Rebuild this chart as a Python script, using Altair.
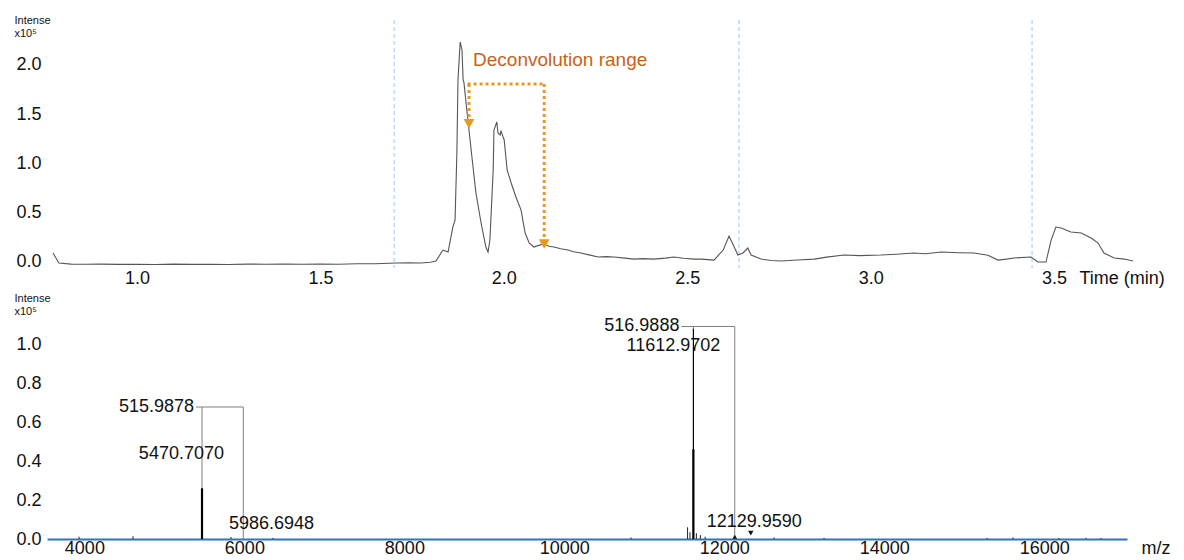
import altair as alt
import pandas as pd

# ---------------- Top panel: chromatogram ----------------
time_min = [0.771, 0.779, 0.787, 0.820, 0.86, 0.90, 0.95, 1.00, 1.05, 1.10, 1.15, 1.20, 1.25, 1.30,
            1.35, 1.40, 1.45, 1.50, 1.55, 1.60, 1.65, 1.706, 1.74, 1.774, 1.80, 1.815, 1.834, 1.848,
            1.861, 1.867, 1.872, 1.875, 1.881, 1.886, 1.889, 1.891, 1.902, 1.913, 1.924, 1.938, 1.951,
            1.957, 1.962, 1.971, 1.973, 1.981, 1.984, 1.990, 1.992, 1.998, 2.001, 2.009, 2.020, 2.033,
            2.047, 2.058, 2.069, 2.082, 2.095, 2.110, 2.123, 2.137, 2.155, 2.175, 2.19, 2.210, 2.235,
            2.257, 2.28, 2.300, 2.33, 2.355, 2.38, 2.409, 2.44, 2.464, 2.49, 2.519, 2.538, 2.573,
            2.598, 2.614, 2.628, 2.638, 2.652, 2.665, 2.674, 2.701, 2.73, 2.756, 2.80, 2.846, 2.88,
            2.927, 2.97, 3.028, 3.07, 3.118, 3.15, 3.192, 3.24, 3.282, 3.32, 3.347, 3.37, 3.391,
            3.437, 3.456, 3.478, 3.492, 3.505, 3.519, 3.546, 3.574, 3.601, 3.620, 3.636, 3.664,
            3.691, 3.715]
intensity_tic = [0.082, 0.031, -0.020, -0.031, -0.033, -0.031, -0.034, -0.032, -0.035, -0.031, -0.034,
                 -0.032, -0.035, -0.031, -0.033, -0.030, -0.033, -0.030, -0.032, -0.028, -0.027,
                 -0.020, -0.018, -0.020, -0.012, 0.000, 0.112, 0.092, 0.347, 0.418, 1.102, 1.847,
                 2.235, 2.153, 1.847, 1.827, 1.439, 1.061, 0.694, 0.388, 0.143, 0.092, 0.214, 0.929,
                 1.337, 1.418, 1.306, 1.286, 1.330, 1.265, 1.235, 0.929, 0.796, 0.653, 0.520, 0.286,
                 0.184, 0.143, 0.160, 0.173, 0.150, 0.143, 0.125, 0.112, 0.095, 0.082, 0.060, 0.041,
                 0.045, 0.041, 0.030, 0.020, 0.025, 0.020, 0.030, 0.041, 0.028, 0.020, 0.020, 0.010,
                 0.112, 0.255, 0.143, 0.061, 0.082, 0.133, 0.061, 0.020, 0.005, 0.000, 0.010, 0.020,
                 0.040, 0.061, 0.055, 0.061, 0.070, 0.082, 0.075, 0.092, 0.085, 0.082, 0.060, 0.010,
                 0.020, 0.031, 0.041, -0.010, -0.010, 0.214, 0.347, 0.337, 0.296, 0.286, 0.235,
                 0.184, 0.082, 0.031, 0.020, 0.000]
assert len(time_min) == len(intensity_tic)

marker_times = [1.701, 2.641, 3.440]
time_ticks = [1.0, 1.5, 2.0, 2.5, 3.0, 3.5]
tic_ticks = [0.0, 0.5, 1.0, 1.5, 2.0]

decon_start = 1.905
decon_end = 2.110
decon_level = 1.806
decon_tips_x = [1.905, 2.110]
decon_tips_y = [1.40, 0.175]
decon_label = "Deconvolution range"
decon_label_x = 1.916
decon_label_y = 2.05

# ---------------- Bottom panel: deconvoluted spectrum ----------------
mz_main = [5470.7070, 11612.9702]
int_main_base = [0.26, 0.46]
int_main_top = [0.26, 1.08]

mz_minor = [3933, 4608, 5833, 6358, 10833, 11540, 11570, 11650, 11700, 11760, 12621, 13246,
            15283, 15608, 16183, 16521, 16708]
int_minor = [0.012, 0.014, 0.010, 0.006, 0.008, 0.060, 0.035, 0.030, 0.020, 0.012, 0.008, 0.006,
             0.006, 0.008, 0.006, 0.006, 0.005]

bracket_left = [5470.7070, 11612.9702]
bracket_right = [5986.6948, 12129.9590]
bracket_start = [5395, 11463]
bracket_level = [0.677, 1.09]
bracket_base = [0.26, 1.08]
bracket_text = ["515.9878", "516.9888"]

mass_text_r = ["5470.7070", "11612.9702"]
mass_x_r = [5745, 11950]
mass_y_r = [0.436, 0.99]
mass_text_l = ["5986.6948", "12129.9590"]
mass_x_l = [5808, 11780]
mass_y_l = [0.077, 0.087]

marker_up = [12129.9590]
marker_down = [12330]

mz_ticks = [4000, 6000, 8000, 10000, 12000, 14000, 16000]
int_ticks = [0.0, 0.2, 0.4, 0.6, 0.8, 1.0]

FONT = "Liberation Sans"
ORANGE = "#e69a1c"
ORANGE_TXT = "#c8621a"

# ---------- top chart ----------
tic_df = pd.DataFrame({"t": time_min, "i": intensity_tic})
xs_top = alt.Scale(domain=[0.7546, 3.737], nice=False, zero=False)
ys_top = alt.Scale(domain=[-0.071, 2.459], nice=False, zero=False)

x_axis_top = alt.Axis(values=time_ticks, format=".1f", labelFontSize=18, labelColor="#111",
                      labelPadding=1, ticks=False, domain=False, grid=False,
                      title="Time (min)", titleFontSize=18, titleFontWeight="normal",
                      titleColor="#111", titleAnchor="start", titleAlign="left",
                      titleBaseline="top", titleX=1032, titleY=1)
y_axis_top = alt.Axis(values=tic_ticks, format=".1f", labelFontSize=18, labelColor="#111",
                      labelPadding=6, ticks=False, domain=False, grid=False,
                      title=["Intense", "x10\u2075"], titleFontSize=11, titleFontWeight="normal",
                      titleColor="#111", titleAngle=0, titleAlign="left", titleBaseline="top",
                      titleX=-33, titleY=-6, titleLineHeight=13)

trace = alt.Chart(tic_df).mark_line(color="#555555", strokeWidth=1.1).encode(
    x=alt.X("t:Q", scale=xs_top, axis=x_axis_top),
    y=alt.Y("i:Q", scale=ys_top, axis=y_axis_top),
)

vlines = alt.Chart(pd.DataFrame({"t": marker_times})).mark_rule(
    color="#9cc7ef", strokeDash=[4, 3], strokeWidth=1
).encode(x=alt.X("t:Q", scale=xs_top))

decon_h = alt.Chart(pd.DataFrame({"a": [decon_start - 0.004], "b": [decon_end], "y": [decon_level]})).mark_rule(
    color=ORANGE, strokeDash=[3, 3], strokeWidth=3
).encode(x=alt.X("a:Q", scale=xs_top), x2="b:Q", y=alt.Y("y:Q", scale=ys_top))

decon_v = alt.Chart(pd.DataFrame({"x": decon_tips_x, "y": [decon_level] * 2,
                                  "y2": [v + 0.06 for v in decon_tips_y]})).mark_rule(
    color=ORANGE, strokeDash=[3, 3], strokeWidth=3
).encode(x=alt.X("x:Q", scale=xs_top), y=alt.Y("y:Q", scale=ys_top), y2="y2:Q")

decon_tips = alt.Chart(pd.DataFrame({"x": decon_tips_x, "y": decon_tips_y})).mark_point(
    shape="triangle-down", filled=True, color=ORANGE, size=120, opacity=1
).encode(x=alt.X("x:Q", scale=xs_top), y=alt.Y("y:Q", scale=ys_top))

decon_txt = alt.Chart(pd.DataFrame({"x": [decon_label_x], "y": [decon_label_y], "s": [decon_label]})).mark_text(
    align="left", baseline="middle", fontSize=19, font=FONT, color=ORANGE_TXT
).encode(x=alt.X("x:Q", scale=xs_top), y=alt.Y("y:Q", scale=ys_top), text="s:N")

top = alt.layer(vlines, trace, decon_h, decon_v, decon_tips, decon_txt).properties(width=1094, height=248)

# ---------- bottom chart ----------
xs_bot = alt.Scale(domain=[3533, 17033], nice=False, zero=False)
ys_bot = alt.Scale(domain=[0, 1.231], nice=False, zero=False)

x_axis_bot = alt.Axis(values=mz_ticks, format="d", labelFontSize=18, labelColor="#111",
                      labelPadding=0, ticks=False, domain=True, domainColor="#2e75b6",
                      domainWidth=2, grid=False, labelFlush=False,
                      title="m/z", titleFontSize=18, titleFontWeight="normal", titleColor="#111",
                      titleAnchor="start", titleAlign="left", titleBaseline="top",
                      titleX=1094, titleY=0)
y_axis_bot = alt.Axis(values=int_ticks, format=".1f", labelFontSize=18, labelColor="#111",
                      labelPadding=6, ticks=False, domain=False, grid=False,
                      title=["Intense", "x10\u2075"], titleFontSize=11, titleFontWeight="normal",
                      titleColor="#111", titleAngle=0, titleAlign="left", titleBaseline="top",
                      titleX=-33, titleY=-7, titleLineHeight=13)

minor = alt.Chart(pd.DataFrame({"mz": mz_minor, "i": int_minor})).mark_rule(
    color="#222", strokeWidth=1
).encode(x=alt.X("mz:Q", scale=xs_bot, axis=x_axis_bot),
         y=alt.Y("i:Q", scale=ys_bot, axis=y_axis_bot), y2=alt.datum(0))

main_top = alt.Chart(pd.DataFrame({"mz": mz_main, "i": int_main_top})).mark_rule(
    color="#000", strokeWidth=1.2
).encode(x=alt.X("mz:Q", scale=xs_bot), y=alt.Y("i:Q", scale=ys_bot), y2=alt.datum(0))

main_base = alt.Chart(pd.DataFrame({"mz": mz_main, "i": int_main_base})).mark_rule(
    color="#000", strokeWidth=2.2
).encode(x=alt.X("mz:Q", scale=xs_bot), y=alt.Y("i:Q", scale=ys_bot), y2=alt.datum(0))

br_df = pd.DataFrame({"l": bracket_left, "r": bracket_right, "s": bracket_start,
                      "lv": bracket_level, "b": bracket_base, "t": bracket_text})
GRAY = "#7f7f7f"
br_left = alt.Chart(br_df).mark_rule(color=GRAY, strokeWidth=1).encode(
    x=alt.X("l:Q", scale=xs_bot), y=alt.Y("b:Q", scale=ys_bot), y2="lv:Q")
br_h = alt.Chart(br_df).mark_rule(color=GRAY, strokeWidth=1).encode(
    x=alt.X("s:Q", scale=xs_bot), x2="r:Q", y=alt.Y("lv:Q", scale=ys_bot))
br_right = alt.Chart(br_df).mark_rule(color=GRAY, strokeWidth=1).encode(
    x=alt.X("r:Q", scale=xs_bot), y=alt.Y("lv:Q", scale=ys_bot), y2=alt.datum(0))
br_txt = alt.Chart(br_df).mark_text(align="right", baseline="middle", fontSize=18, font=FONT,
                                    color="#111", dx=-2).encode(
    x=alt.X("s:Q", scale=xs_bot), y=alt.Y("lv:Q", scale=ys_bot), text="t:N")

txt_r = alt.Chart(pd.DataFrame({"x": mass_x_r, "y": mass_y_r, "s": mass_text_r})).mark_text(
    align="right", baseline="middle", fontSize=18, font=FONT, color="#111"
).encode(x=alt.X("x:Q", scale=xs_bot), y=alt.Y("y:Q", scale=ys_bot), text="s:N")
txt_l = alt.Chart(pd.DataFrame({"x": mass_x_l, "y": mass_y_l, "s": mass_text_l})).mark_text(
    align="left", baseline="middle", fontSize=18, font=FONT, color="#111"
).encode(x=alt.X("x:Q", scale=xs_bot), y=alt.Y("y:Q", scale=ys_bot), text="s:N")

m_up = alt.Chart(pd.DataFrame({"x": marker_up, "y": [0.012]})).mark_point(
    shape="triangle-up", filled=True, color="#111", size=22, opacity=1
).encode(x=alt.X("x:Q", scale=xs_bot), y=alt.Y("y:Q", scale=ys_bot))
m_dn = alt.Chart(pd.DataFrame({"x": marker_down, "y": [0.03]})).mark_point(
    shape="triangle-down", filled=True, color="#111", size=30, opacity=1
).encode(x=alt.X("x:Q", scale=xs_bot), y=alt.Y("y:Q", scale=ys_bot))

bottom = alt.layer(minor, main_base, main_top, br_left, br_h, br_right, br_txt, txt_r, txt_l,
                   m_up, m_dn).properties(width=1080, height=240)

chart = alt.vconcat(top, bottom, spacing=3).properties(
    padding={"left": 5, "top": 5, "right": 5, "bottom": 0},
    background="white",
).configure(font=FONT).configure_view(stroke="transparent")

chart.save("out.html", embed_options={"renderer": "svg", "actions": False})
